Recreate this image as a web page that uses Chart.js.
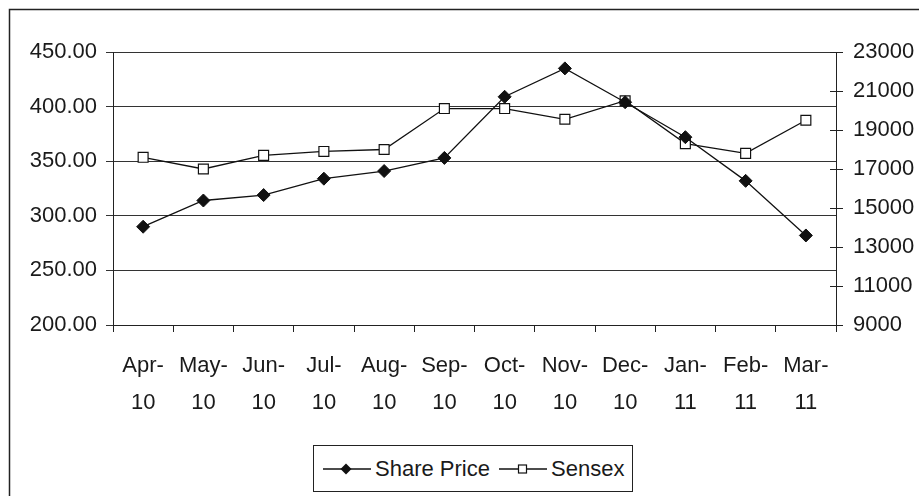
<!DOCTYPE html>
<html>
<head>
<meta charset="utf-8">
<script src="https://cdn.jsdelivr.net/npm/chart.js@4/dist/chart.umd.min.js"></script>
<style>
  html, body { margin: 0; padding: 0; background: #fff; }
  #wrap { position: relative; width: 919px; height: 496px; overflow: hidden; }
  #c { position: absolute; left: 0; top: 0; }
  #legend {
    position: absolute; left: 313px; top: 445px; width: 318px; height: 45px;
    border: 1.5px solid #222; background: #fff;
    font-family: "Liberation Sans", Arial, sans-serif; font-size: 22px; color: #1a1a1a;
  }
  #legend .item { position: absolute; top: 0; height: 45px; display: flex; align-items: center; }
  #legend svg { display: block; }
  #legend span { margin-left: 4px; white-space: nowrap; }
</style>
</head>
<body>
<div id="wrap">
  <canvas id="c" width="919" height="496"></canvas>
  <div id="legend">
    <div class="item" style="left:9px">
      <svg width="48" height="16" viewBox="0 0 48 16">
        <line x1="0" y1="8" x2="48" y2="8" stroke="#111" stroke-width="1.4"/>
        <polygon points="23,2.5 28.5,8 23,13.5 17.5,8" fill="#111"/>
      </svg>
      <span>Share Price</span>
    </div>
    <div class="item" style="left:185px">
      <svg width="48" height="16" viewBox="0 0 48 16">
        <line x1="0" y1="8" x2="48" y2="8" stroke="#111" stroke-width="1.4"/>
        <rect x="19.5" y="4" width="8" height="8" fill="#fff" stroke="#111" stroke-width="1.2"/>
      </svg>
      <span>Sensex</span>
    </div>
  </div>
</div>
<script>
const months = ['Apr-', 'May-', 'Jun-', 'Jul-', 'Aug-', 'Sep-', 'Oct-', 'Nov-', 'Dec-', 'Jan-', 'Feb-', 'Mar-'];
const years  = ['10', '10', '10', '10', '10', '10', '10', '10', '10', '11', '11', '11'];
const sharePrice = [290, 314, 319, 334, 341, 353, 409, 435, 404, 372, 332, 282];
const sensex     = [17600, 17000, 17700, 17900, 18000, 20100, 20100, 19550, 20500, 18300, 17800, 19500];
const leftTicks  = [200, 250, 300, 350, 400, 450];
const rightTicks = [9000, 11000, 13000, 15000, 17000, 19000, 21000, 23000];

const labels = months.map((m, i) => [m, years[i]]);
const FONT = { family: '"Liberation Sans", Arial, sans-serif', size: 22 };
const TXT = '#1a1a1a';

const extras = {
  id: 'extras',
  afterDraw(chart) {
    const ctx = chart.ctx;
    const y1 = chart.scales.y1;
    ctx.save();
    ctx.strokeStyle = '#222';
    ctx.lineWidth = 1;
    y1.ticks.forEach(t => {
      const p = Math.round(y1.getPixelForValue(t.value)) + 0.5;
      ctx.beginPath();
      ctx.moveTo(y1.left - 6, p);
      ctx.lineTo(y1.left, p);
      ctx.stroke();
    });
    ctx.lineWidth = 1.5;
    ctx.strokeStyle = '#222';
    ctx.strokeRect(9.5, 9.5, 1000, 1000);
    ctx.restore();
  }
};

new Chart(document.getElementById('c'), {
  type: 'line',
  data: {
    labels: labels,
    datasets: [
      {
        label: 'Share Price', data: sharePrice, yAxisID: 'y',
        borderColor: '#111', borderWidth: 1.3, tension: 0,
        pointStyle: 'rectRot', pointRadius: 6.5, pointBackgroundColor: '#111', pointBorderColor: '#111', pointBorderWidth: 1
      },
      {
        label: 'Sensex', data: sensex, yAxisID: 'y1',
        borderColor: '#111', borderWidth: 1.3, tension: 0,
        pointStyle: 'rect', pointRadius: 7, pointBackgroundColor: '#fff', pointBorderColor: '#111', pointBorderWidth: 1.2
      }
    ]
  },
  options: {
    responsive: false,
    animation: false,
    events: [],
    layout: { padding: { top: 52, left: 0, right: 0, bottom: 0 } },
    plugins: { legend: { display: false }, tooltip: { enabled: false } },
    scales: {
      x: {
        type: 'category',
        offset: true,
        grid: { offset: true, drawOnChartArea: false, tickLength: 7, color: '#222', lineWidth: 1 },
        border: { display: true, color: '#222', width: 1 },
        ticks: { font: { ...FONT, lineHeight: 37 / 22 }, color: TXT, padding: 15, maxRotation: 0, autoSkip: false },
        afterFit(s) { s.height = 496 - 325; }
      },
      y: {
        position: 'left',
        min: 200, max: 450,
        afterBuildTicks(s) { s.ticks = leftTicks.map(v => ({ value: v })); },
        grid: { color: '#333', lineWidth: 1, tickLength: 7 },
        border: { display: true, color: '#222', width: 1 },
        ticks: { font: FONT, color: TXT, padding: 9, callback: v => Number(v).toFixed(2) },
        afterFit(s) { s.width = 113; }
      },
      y1: {
        position: 'right',
        min: 9000, max: 23000,
        afterBuildTicks(s) { s.ticks = rightTicks.map(v => ({ value: v })); },
        grid: { drawOnChartArea: false, color: '#222', lineWidth: 1, tickLength: 7 },
        border: { display: true, color: '#222', width: 1 },
        ticks: { font: FONT, color: TXT, padding: 10, callback: v => String(v) },
        afterFit(s) { s.width = 919 - 836; }
      }
    }
  },
  plugins: [extras]
});
</script>
</body>
</html>
